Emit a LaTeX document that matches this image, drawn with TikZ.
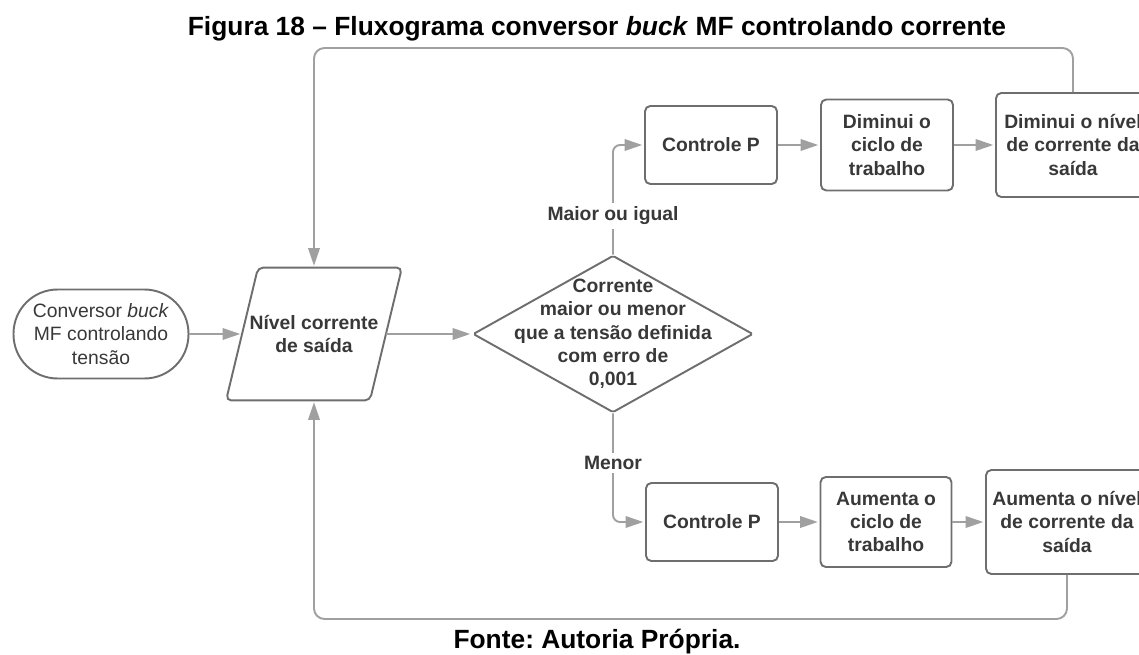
\documentclass[tikz,border=0pt]{standalone}
\usepackage{fontspec}
\setmainfont{Liberation Sans}
\usetikzlibrary{arrows.meta,shapes.geometric}
\definecolor{txtgray}{HTML}{383838}
\definecolor{boxgray}{HTML}{6E6E6E}
\definecolor{linegray}{HTML}{A0A0A0}
\newcommand{\nodefont}{\fontsize{11}{13.3}\selectfont}
\newcommand{\titlefont}{\fontsize{15}{18}\selectfont\bfseries\frenchspacing}
\tikzset{
  box/.style={draw=boxgray, line width=1.1pt, rounded corners=3pt, align=center,
    text=txtgray, font=\nodefont\bfseries, inner sep=0pt},
  arr/.style={draw=linegray, line width=1.1pt, -{Triangle[length=10pt,width=6.5pt]},
    shorten >=1pt},
  lbl/.style={fill=white, text=txtgray, font=\nodefont\bfseries, inner sep=2pt},
}
\begin{document}
\begin{tikzpicture}[x=0.02cm, y=-0.02cm]
  \useasboundingbox (0,0) rectangle (1139,655);
  \clip (0,0) rectangle (1139,655);
  \node[font=\titlefont, anchor=base] (title) at (597,36) {Figura 18 – Fluxograma conversor \textit{buck} MF controlando corrente};
  \node[font=\titlefont, anchor=base] (source) at (597,648) {Fonte: Autoria Própria.};
%
  \node[box, font=\nodefont, rounded corners=0.88cm, minimum width=3.5cm, minimum height=1.78cm] (start) at (101,334) {Conversor \textit{buck}\\MF controlando\\tensão};
  \node[box, draw=none, minimum width=2.84cm, minimum height=2.62cm] (level) at (314,334) {Nível corrente\\de saída};
  \draw[boxgray, line width=1.1pt, rounded corners=3pt] ([xshift=0.32cm]level.north west) -- ([xshift=0.32cm]level.north east)
    -- ([xshift=-0.32cm]level.south east) -- ([xshift=-0.32cm]level.south west) -- cycle;
  \node[box, diamond, rounded corners=1pt, minimum width=5.6cm, minimum height=3.14cm] (dec) at (613,334) {};
  \node[text=txtgray, font=\nodefont\bfseries, align=center] (dectext) at (dec) {Corrente\\maior ou menor\\que a tensão definida\\com erro de\\0,001};
%
  \node[box, minimum width=2.64cm, minimum height=1.56cm] (cpup) at (711,145) {Controle P};
  \node[box, minimum width=2.64cm, minimum height=1.82cm] (cycdown) at (887,145) {Diminui o\\ciclo de\\trabalho};
  \node[box, minimum width=3.08cm, minimum height=2.08cm] (levdown) at (1073,145) {Diminui o nível\\de corrente da\\saída};
%
  \node[box, minimum width=2.64cm, minimum height=1.56cm] (cplow) at (712,522) {Controle P};
  \node[box, minimum width=2.62cm, minimum height=1.8cm] (cycup) at (886,522) {Aumenta o\\ciclo de\\trabalho};
  \node[box, minimum width=3.24cm, minimum height=2.08cm] (levup) at (1067,522) {Aumenta o nível\\de corrente da\\saída};
%
  \coordinate (fbtop) at (314,48);
  \coordinate (fbbot) at (314,619);
  \draw[arr] (start) -- (level);
  \draw[arr] (level) -- (dec);
  \draw[arr, rounded corners=4pt] (dec.north) |- (cpup.west);
  \draw[arr, rounded corners=4pt] (dec.south) |- (cplow.west);
  \draw[arr] (cpup) -- (cycdown);
  \draw[arr] (cycdown) -- (levdown);
  \draw[arr] (cplow) -- (cycup);
  \draw[arr] (cycup) -- (levup);
  \draw[arr, rounded corners=6pt] (levdown.north) |- (fbtop) -- (level);
  \draw[arr, rounded corners=6pt] (levup.south) |- (fbbot) -- (level);
  \node[lbl] (geq) at (613,216) {Maior ou igual};
  \node[lbl] (less) at (613,463) {Menor};
\end{tikzpicture}
\end{document}
